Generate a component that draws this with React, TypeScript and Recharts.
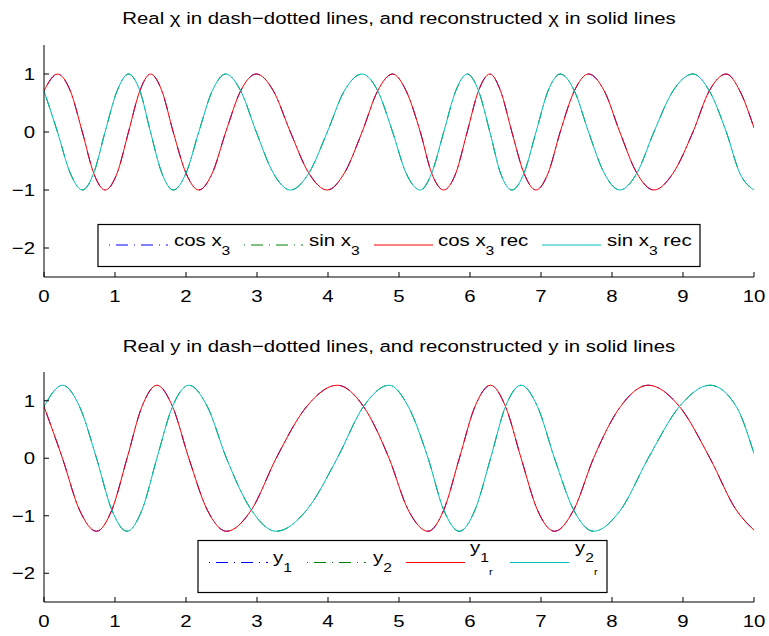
import React from "react";
import { LineChart, Line, XAxis, YAxis } from "recharts";

// x positions (phase steps of the chi signals)
const chiX = [
  0, 0.19, 0.37, 0.54, 0.7, 0.86, 1.03, 1.19, 1.35, 1.5, 1.66, 1.82, 2.0, 2.18,
  2.37, 2.56, 2.77, 2.99, 3.23, 3.47, 3.73, 3.99, 4.23, 4.48, 4.7, 4.91, 5.1,
  5.3, 5.46, 5.63, 5.8, 5.96, 6.12, 6.28, 6.43, 6.59, 6.76, 6.93, 7.1, 7.27,
  7.47, 7.67, 7.89, 8.11, 8.35, 8.59, 8.86, 9.14, 9.37, 9.61, 9.8, 10,
];
const cosX3 = [
  0.71, 1, 0.71, 0, -0.71, -1, -0.71, 0, 0.71, 1, 0.71, 0, -0.71, -1, -0.71, 0,
  0.71, 1, 0.71, 0, -0.71, -1, -0.71, 0, 0.71, 1, 0.71, 0, -0.71, -1, -0.71, 0,
  0.71, 1, 0.71, 0, -0.71, -1, -0.71, 0, 0.71, 1, 0.71, 0, -0.71, -1, -0.71, 0,
  0.71, 1, 0.71, 0.07,
];
const sinX3 = [
  0.71, 0, -0.71, -1, -0.71, 0, 0.71, 1, 0.71, 0, -0.71, -1, -0.71, 0, 0.71, 1,
  0.71, 0, -0.71, -1, -0.71, 0, 0.71, 1, 0.71, 0, -0.71, -1, -0.71, 0, 0.71, 1,
  0.71, 0, -0.71, -1, -0.71, 0, 0.71, 1, 0.71, 0, -0.71, -1, -0.71, 0, 0.71, 1,
  0.71, 0, -0.71, -1,
];
// reconstruction sits on top of the real curves
const cosX3Rec = cosX3;
const sinX3Rec = sinX3;

// bottom panel
const yX = [
  0, 0.26, 0.5, 0.74, 0.955, 1.17, 1.38, 1.59, 1.81, 2.04, 2.3, 2.57, 2.92, 3.27,
  3.7, 4.13, 4.5, 4.86, 5.13, 5.41, 5.63, 5.85, 6.07, 6.29, 6.5, 6.72, 6.95,
  7.19, 7.46, 7.74, 8.12, 8.51, 8.95, 9.38, 9.75, 10,
];
const y1 = [
  0.9, 0, -0.9, -1.27, -0.9, 0, 0.9, 1.27, 0.9, 0, -0.9, -1.27, -0.9, 0, 0.9,
  1.27, 0.9, 0, -0.9, -1.27, -0.9, 0, 0.9, 1.27, 0.9, 0, -0.9, -1.27, -0.9, 0,
  0.9, 1.27, 0.9, 0, -0.9, -1.25,
];
const y2 = [
  0.9, 1.27, 0.9, 0, -0.9, -1.27, -0.9, 0, 0.9, 1.27, 0.9, 0, -0.9, -1.27, -0.9,
  0, 0.9, 1.27, 0.9, 0, -0.9, -1.27, -0.9, 0, 0.9, 1.27, 0.9, 0, -0.9, -1.27,
  -0.9, 0, 0.9, 1.27, 0.9, 0.08,
];
const y1Rec = y1;
const y2Rec = y2;

const xTicks = [0, 1, 2, 3, 4, 5, 6, 7, 8, 9, 10];
const yTicks = [-2, -1, 0, 1];

const FONT = '"Liberation Sans", Arial, Helvetica, sans-serif';
const SX = 1.2; // MATLAB text renders wider than Arial
const BLUE = "#0000ff";
const GREEN = "#008000";
const RED = "#ff0000";
const CYAN = "#00bfbf";
const DASHDOT = "1 6 12 6";

const chiData = chiX.map((x, i) => ({
  x,
  cos: cosX3[i],
  sin: sinX3[i],
  cosRec: cosX3Rec[i],
  sinRec: sinX3Rec[i],
}));
const yData = yX.map((x, i) => ({
  x,
  y1: y1[i],
  y2: y2[i],
  y1r: y1Rec[i],
  y2r: y2Rec[i],
}));

const fmt = (v: number) => (v < 0 ? "\u2212" + Math.abs(v) : String(v));

function XTick(props: any) {
  const { x, y, payload } = props;
  return (
    <g transform={`translate(${x},${y + 25}) scale(${SX},1)`}>
      <text x={0} y={0} textAnchor="middle" fontSize={17} fontFamily={FONT} fill="#000">
        {fmt(payload.value)}
      </text>
    </g>
  );
}

function YTick(props: any) {
  const { x, y, payload } = props;
  return (
    <g transform={`translate(${x - 9},${y + 6}) scale(${SX},1)`}>
      <text x={0} y={0} textAnchor="end" fontSize={17} fontFamily={FONT} fill="#000">
        {fmt(payload.value)}
      </text>
    </g>
  );
}

function Axes() {
  return null;
}

function Panel({ data, keys, margin }: { data: any[]; keys: string[]; margin: any }) {
  const styles = [
    { stroke: BLUE, dash: DASHDOT },
    { stroke: GREEN, dash: DASHDOT },
    { stroke: RED, dash: undefined },
    { stroke: CYAN, dash: undefined },
  ];
  return (
    <LineChart width={769} height={margin.h} data={data} margin={margin.m}>
      <XAxis
        xAxisId="b"
        dataKey="x"
        type="number"
        domain={[0, 10]}
        allowDataOverflow
        ticks={xTicks}
        interval={0}
        height={30}
        tickSize={-5}
        tickMargin={5}
        axisLine={{ stroke: "#000" }}
        tickLine={{ stroke: "#000" }}
        tick={<XTick />}
      />
      <XAxis
        xAxisId="t"
        orientation="top"
        dataKey="x"
        type="number"
        domain={[0, 10]}
        allowDataOverflow
        ticks={xTicks}
        interval={0}
        height={0}
        tickSize={-5}
        axisLine={{ stroke: "#000" }}
        tickLine={{ stroke: "#000" }}
        tick={false}
      />
      <YAxis
        yAxisId="l"
        type="number"
        domain={[-2.5, 1.5]}
        allowDataOverflow
        ticks={yTicks}
        interval={0}
        width={44}
        tickSize={-5}
        tickMargin={5}
        axisLine={{ stroke: "#000" }}
        tickLine={{ stroke: "#000" }}
        tick={<YTick />}
      />
      <YAxis
        yAxisId="r"
        orientation="right"
        type="number"
        domain={[-2.5, 1.5]}
        allowDataOverflow
        ticks={yTicks}
        interval={0}
        width={0}
        tickSize={-5}
        axisLine={{ stroke: "#000" }}
        tickLine={{ stroke: "#000" }}
        tick={false}
      />
      {keys.map((k, i) => (
        <Line
          key={k}
          xAxisId="b"
          yAxisId="l"
          dataKey={k}
          type="monotone"
          dot={false}
          activeDot={false}
          stroke={styles[i].stroke}
          strokeDasharray={styles[i].dash}
          strokeWidth={1}
          isAnimationActive={false}
        />
      ))}
    </LineChart>
  );
}

function Label({ main, sub, subsub, after, raise = 0 }: any) {
  return (
    <text x={0} y={-raise} fontSize={17} fontFamily={FONT} fill="#000" style={{ whiteSpace: "pre" }}>
      {main}
      <tspan fontSize={13} dy={8.5}>
        {sub}
      </tspan>
      {subsub && (
        <tspan fontSize={9} dy={raise + 3.5}>
          {subsub}
        </tspan>
      )}
      {after && <tspan dy={-8.5}>{after}</tspan>}
    </text>
  );
}

const chiLegend = [
  { main: "cos x", sub: "3", color: BLUE, dash: DASHDOT },
  { main: "sin x", sub: "3", color: GREEN, dash: DASHDOT },
  { main: "cos x", sub: "3", after: " rec", color: RED },
  { main: "sin x", sub: "3", after: " rec", color: CYAN },
];
const chiLegendLineX = [109, 244, 374, 542];
const chiLegendTextX = [174, 309, 438, 607];

const yLegend = [
  { main: "y", sub: "1", color: BLUE, dash: DASHDOT },
  { main: "y", sub: "2", color: GREEN, dash: DASHDOT },
  { main: "y", sub: "1", subsub: "r", color: RED, raise: 10 },
  { main: "y", sub: "2", subsub: "r", color: CYAN, raise: 10 },
];
const yLegendLineX = [209, 307, 406, 510];
const yLegendTextX = [273, 373, 470, 575];

export default function App() {
  return (
    <div style={{ position: "absolute", left: 0, top: 0, width: 769, height: 636, background: "#fff" }}>
      <div style={{ position: "absolute", left: 0, top: 0 }}>
        <Panel
          data={chiData}
          keys={["cos", "sin", "cosRec", "sinRec"]}
          margin={{ h: 320, m: { top: 45, right: 15, bottom: 13, left: 0 } }}
        />
      </div>
      <div style={{ position: "absolute", left: 0, top: 320 }}>
        <Panel
          data={yData}
          keys={["y1", "y2", "y1r", "y2r"]}
          margin={{ h: 316, m: { top: 52, right: 15, bottom: 4, left: 0 } }}
        />
      </div>
      <svg
        width={769}
        height={636}
        style={{ position: "absolute", left: 0, top: 0, pointerEvents: "none" }}
      >
        <g transform={`translate(399,24.3) scale(${SX},1)`}>
          <text x={0} y={0} textAnchor="middle" fontSize={17} fontFamily={FONT} fill="#000">
            Real χ in dash−dotted lines, and reconstructed χ in solid lines
          </text>
        </g>
        <g transform={`translate(399,351.5) scale(${SX},1)`}>
          <text x={0} y={0} textAnchor="middle" fontSize={17} fontFamily={FONT} fill="#000">
            Real y in dash−dotted lines, and reconstructed y in solid lines
          </text>
        </g>

        <rect x={98} y={224.5} width={602} height={42} fill="#fff" stroke="#000" strokeWidth={1.2} />
        {chiLegend.map((e, i) => (
          <g key={"c" + i}>
            <line
              x1={chiLegendLineX[i]}
              x2={chiLegendLineX[i] + 59}
              y1={245}
              y2={245}
              stroke={e.color}
              strokeDasharray={e.dash}
            />
            <g transform={`translate(${chiLegendTextX[i]},246) scale(${SX},1)`}>
              <Label main={e.main} sub={e.sub} after={e.after} />
            </g>
          </g>
        ))}

        <rect x={198} y={540.5} width={409} height={52} fill="#fff" stroke="#000" strokeWidth={1.2} />
        {yLegend.map((e, i) => (
          <g key={"y" + i}>
            <line
              x1={yLegendLineX[i]}
              x2={yLegendLineX[i] + 59}
              y1={562.5}
              y2={562.5}
              stroke={e.color}
              strokeDasharray={e.dash}
            />
            <g transform={`translate(${yLegendTextX[i]},563) scale(${SX},1)`}>
              <Label main={e.main} sub={e.sub} subsub={e.subsub} raise={e.raise || 0} />
            </g>
          </g>
        ))}
      </svg>
    </div>
  );
}
